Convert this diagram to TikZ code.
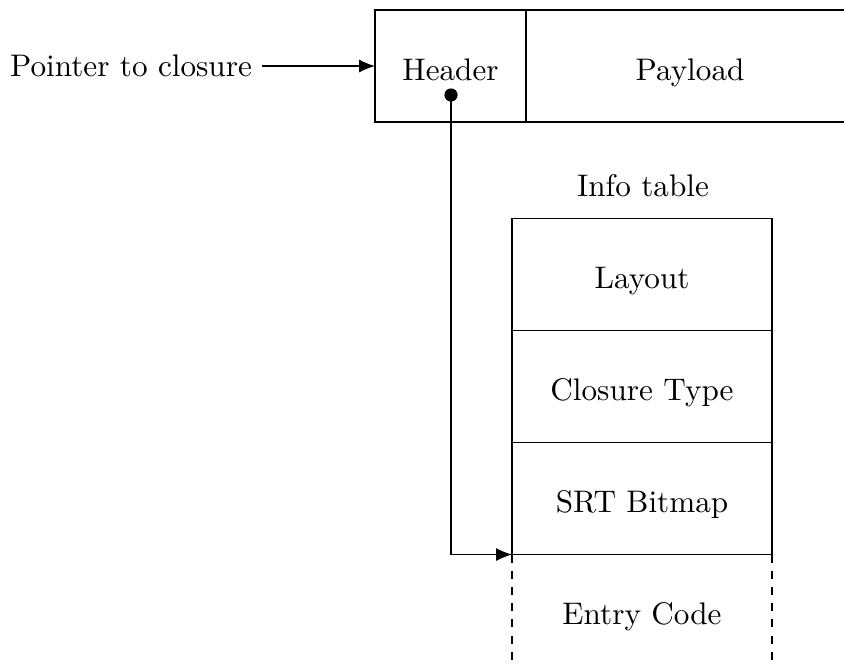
\documentclass[tikz,border=0pt]{standalone}
\usetikzlibrary{positioning,arrows.meta}

\begin{document}
\begin{tikzpicture}[x=0.3333pt, y=-0.3333pt, line width=0.36pt,
    every node/.style={font=\fontsize{10.4}{12.5}\selectfont},
    cell/.style={rectangle, draw, outer sep=0pt, inner sep=0pt, minimum height=37.33pt, text height=9.6pt, text depth=0pt},
    ptr/.style={-{Latex[length=5.3pt, width=4.3pt]}}]
    \useasboundingbox (0,0) rectangle (844,666);

    \node[cell, minimum width=50.33pt] (header) at (450.5,66) {Header};
    \node[cell, minimum width=109.33pt, right=0pt of header] (payload) {Payload};
    \node (pointer) at (131,66) {Pointer to closure};

    \node (infotitle) at (643,186) {Info table};
    \node[cell, minimum width=86.67pt] (layout) at (642,274.5) {Layout};
    \node[cell, minimum width=86.67pt, below=0pt of layout] (closuretype) {Closure Type};
    \node[cell, minimum width=86.67pt, below=0pt of closuretype] (srtbitmap) {SRT Bitmap};
    \node[cell, minimum width=86.67pt, draw=none, below=0pt of srtbitmap] (entrycode) {Entry Code};
    \draw[dash pattern=on 2.7pt off 2.7pt] (entrycode.north west) -- (entrycode.south west);
    \draw[dash pattern=on 2.7pt off 2.7pt] (entrycode.north east) -- (entrycode.south east);

    \coordinate (hdot) at (451,95);
    \fill (hdot) circle (2.2pt);

    \draw[ptr] (pointer) -- (header);
    \draw[ptr] (hdot) |- (srtbitmap.south west);
\end{tikzpicture}
\end{document}
